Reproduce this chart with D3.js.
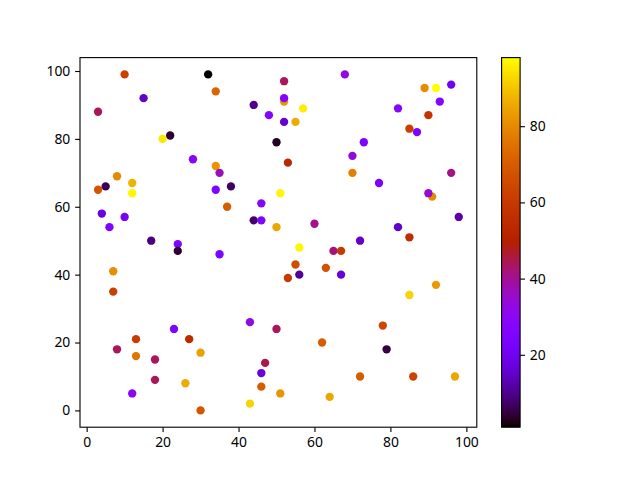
<!DOCTYPE html>
<html>
<head>
<meta charset="utf-8">
<script src="https://cdn.jsdelivr.net/npm/d3@7"></script>
<style>
  html, body { margin: 0; padding: 0; background: #fff; }
  text { font-family: "Noto Sans", sans-serif; }
</style>
</head>
<body>
<svg id="chart" width="640" height="480"></svg>
<script>
const xs = [10,32,34,15,3,20,22,28,34,35,8,3,5,12,12,34,38,37,4,10,6,17,24,46,44,46,50,51,44,48,50,52,52,52,52,53,57,55,68,89,92,96,93,82,90,85,87,73,70,70,77,96,91,90,60,82,98,72,85,56,65,67,55,53,56,63,67,85,92,50,78,62,79,72,86,97,51,64,24,35,7,7,43,23,13,27,8,13,18,30,47,46,46,18,26,12,43,30];
const ys = [99,99,94,92,88,80,81,74,72,70,69,65,66,67,64,65,66,60,58,57,54,50,49,61,56,56,54,64,90,87,79,97,91,92,85,73,89,85,99,95,95,96,91,89,87,83,82,79,75,70,67,70,63,64,55,54,57,50,51,48,47,47,43,39,40,42,40,34,37,24,25,20,18,10,10,10,5,4,47,46,41,35,26,24,21,21,18,16,15,17,14,11,7,9,8,5,2,0];
const cs = [62,1,72,15,44,95,4,28,82,37,80,68,6,87,97,24,7,70,17,21,25,9,26,27,8,25,85,97,10,27,3,44,82,27,16,53,96,86,33,80,98,20,27,28,58,62,25,25,33,78,24,41,80,35,41,15,13,15,55,97,42,60,66,60,11,67,17,92,83,44,64,70,5,70,63,85,82,85,4,25,81,62,33,24,61,54,44,76,44,84,45,17,70,44,86,30,92,68];
const xTicks = [0,20,40,60,80,100];
const yTicks = [0,20,40,60,80,100];
const cTicks = [20,40,60,80];

function gnuplot(t) {
  t = Math.max(0, Math.min(1, t));
  const r = Math.sqrt(t), g = Math.pow(t, 3), b = Math.max(0, Math.sin(2 * Math.PI * t));
  return d3.rgb(Math.round(r * 255), Math.round(g * 255), Math.round(Math.min(1, b) * 255)).toString();
}

const svg = d3.select("#chart");
svg.append("rect").attr("width", 640).attr("height", 480).attr("fill", "#fff");

const L = 80, R = 476.8, T = 57.6, B = 427.2;
const fs = 13.9, tl = 4.86, tp = 4.86, lw = 1.11;
const FONT = "Noto Sans";

const xExt = d3.extent(xs), yExt = d3.extent(ys), cExt = d3.extent(cs);
const xm = (xExt[1] - xExt[0]) * 0.05, ym = (yExt[1] - yExt[0]) * 0.05;
const x = d3.scaleLinear().domain([xExt[0] - xm, xExt[1] + xm]).range([L, R]);
const y = d3.scaleLinear().domain([yExt[0] - ym, yExt[1] + ym]).range([B, T]);
const cNorm = d3.scaleLinear().domain(cExt).range([0, 1]);

const pts = xs.map((v, i) => ({ x: v, y: ys[i], c: cs[i] }));
svg.append("g").selectAll("circle").data(pts).join("circle")
  .attr("cx", d => x(d.x)).attr("cy", d => y(d.y)).attr("r", 4.17)
  .attr("fill", d => gnuplot(cNorm(d.c)));

const xAxis = svg.append("g").attr("transform", `translate(0,${B})`)
  .call(d3.axisBottom(x).tickValues(xTicks).tickSize(tl).tickPadding(tp).tickFormat(d3.format("d")));
const yAxis = svg.append("g").attr("transform", `translate(${L},0)`)
  .call(d3.axisLeft(y).tickValues(yTicks).tickSize(tl).tickPadding(tp).tickFormat(d3.format("d")));
[xAxis, yAxis].forEach(a => {
  a.select(".domain").remove();
  a.selectAll("line").attr("stroke", "#000").attr("stroke-width", lw);
  a.selectAll("text").attr("font-size", fs).attr("fill", "#000").style("font-family", FONT);
});
svg.append("rect").attr("x", L).attr("y", T).attr("width", R - L).attr("height", B - T)
  .attr("fill", "none").attr("stroke", "#000").attr("stroke-width", lw);

// colorbar
const CL = 501.6, CW = 18.5;
const cScale = d3.scaleLinear().domain(cExt).range([B, T]);
const defs = svg.append("defs");
const grad = defs.append("linearGradient").attr("id", "cg")
  .attr("x1", 0).attr("y1", 1).attr("x2", 0).attr("y2", 0);
const N = 128;
for (let i = 0; i <= N; i++) {
  grad.append("stop").attr("offset", i / N).attr("stop-color", gnuplot(i / N));
}
svg.append("rect").attr("x", CL).attr("y", T).attr("width", CW).attr("height", B - T)
  .attr("fill", "url(#cg)");
const cAxis = svg.append("g").attr("transform", `translate(${CL + CW},0)`)
  .call(d3.axisRight(cScale).tickValues(cTicks).tickSize(tl).tickPadding(tp).tickFormat(d3.format("d")));
cAxis.select(".domain").remove();
cAxis.selectAll("line").attr("stroke", "#000").attr("stroke-width", lw);
cAxis.selectAll("text").attr("font-size", fs).attr("fill", "#000").style("font-family", FONT);
svg.append("rect").attr("x", CL).attr("y", T).attr("width", CW).attr("height", B - T)
  .attr("fill", "none").attr("stroke", "#000").attr("stroke-width", lw);
</script>
</body>
</html>
